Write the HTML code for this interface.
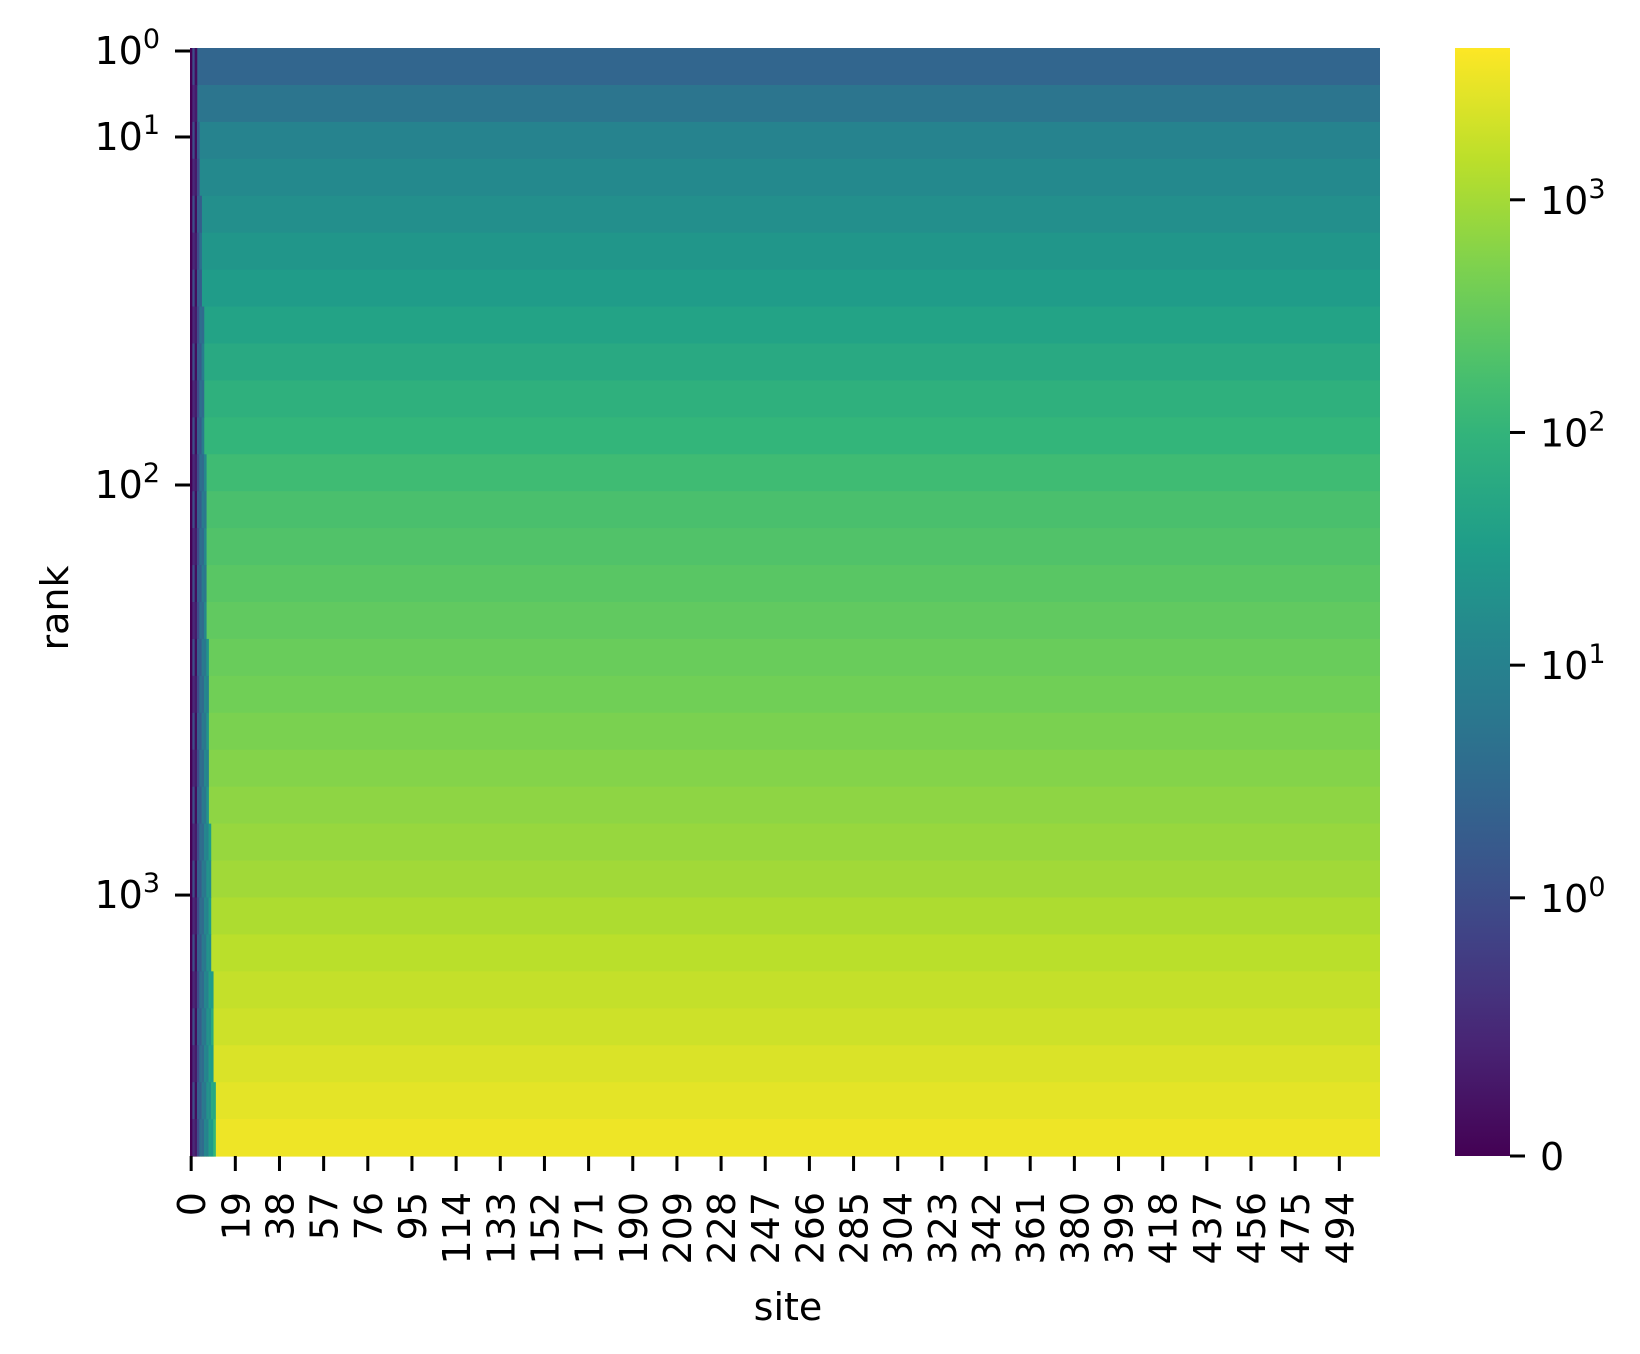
<!DOCTYPE html>
<html><head><meta charset="utf-8"><style>
html,body{margin:0;padding:0;background:#fff}
svg{display:block;font-family:"DejaVu Sans","Liberation Sans",sans-serif}
</style></head><body>
<svg id="chart" width="1640" height="1354" viewBox="0 0 1640 1354" xmlns="http://www.w3.org/2000/svg">
<g id="cells"></g>
<g id="noise"></g>
<g id="cbar"></g>
<g id="axes"></g>
</svg>
<script>
// ---- data ----
const rowBandValues = [2.8,5.4,10.4,13.7,18,24,31,43,60,84,105,145,181,213,251,296,350,410,485,571,675,790,935,1165,1450,1700,2000,2500,2950,3500];
const nSites = 512;
const xTickSites = [0,19,38,57,76,95,114,133,152,171,190,209,228,247,266,285,304,323,342,361,380,399,418,437,456,475,494];
const yTickLabels = ["0","1","2","3"];
const yTickPos = [0,0.0776,0.3917,0.7618]; // fraction down the axis (rank ticks)
const cbarTickValues = [0,1,10,100,1000];
const cbarTickLabels = ["0","10^0","10^1","10^2","10^3"];
const noiseColValues = [0,1,0.3,2,4,7,12,20,35,60,110];
const noiseExtent = [3,3,4,4,5,5,5,6,6,6,6,7,7,7,7,7,8,8,8,8,8,9,9,9,9,10,10,10,11,11];

// ---- geometry ----
const X0=190,X1=1380,Y0=48,Y1=1156;
const CB0=1455,CB1=1510;
const FS=38, SUP=27;
function norm(v){ // symlog, linthresh 1
  const lin=0.233, dec=0.21;
  if(v<=1) return lin*v;
  return Math.min(1, lin+dec*Math.log10(v));
}
const VIR=[[68,1,84],[72,40,120],[62,74,137],[49,104,142],[38,130,142],[31,158,137],[53,183,121],[110,206,88],[181,222,43],[253,231,37]];
function viridis(t){
  t=Math.max(0,Math.min(1,t));const s=t*(VIR.length-1);const i=Math.min(VIR.length-2,Math.floor(s));const f=s-i;
  const c=VIR[i].map((a,k)=>Math.round(a+(VIR[i+1][k]-a)*f));return `rgb(${c[0]},${c[1]},${c[2]})`;
}
const xs=i=>X0+(X1-X0)*i/nSites;
const ys=i=>Y0+(Y1-Y0)*i/rowBandValues.length;
const NS="http://www.w3.org/2000/svg";
function mk(tag,attrs,parent){const e=document.createElementNS(NS,tag);for(const k in attrs)e.setAttribute(k,attrs[k]);parent.appendChild(e);return e;}

const cells=document.getElementById('cells');
rowBandValues.forEach((v,i)=>{
  const r=mk('rect',{x:X0,y:ys(i),width:X1-X0,height:ys(i+1)-ys(i)+0.6,fill:viridis(norm(v))},cells);
  
  
});
const noise=document.getElementById('noise');
noiseExtent.forEach((ext,i)=>{
  for(let c=0;c<ext;c++){
    const val=noiseColValues[c]*((i+c)%2?1:0.5);
    const r=mk('rect',{x:xs(c),y:ys(i),width:xs(c+1)-xs(c)+0.3,height:ys(i+1)-ys(i)+0.6,fill:viridis(norm(val))},noise);
    
    
  }
});
// colorbar
const cb=document.getElementById('cbar');
const defs=mk('defs',{},cb);
const lg=mk('linearGradient',{id:'g',x1:0,y1:1,x2:0,y2:0},defs);
for(let k=0;k<=20;k++)mk('stop',{offset:k/20,'stop-color':viridis(k/20)},lg);
const cbr=mk('rect',{x:CB0,y:Y0,width:CB1-CB0,height:Y1-Y0,fill:'url(#g)'},cb);


cbarTickValues.forEach((v,i)=>{
  const y=Y1-(Y1-Y0)*norm(v);
  mk('line',{x1:CB1,x2:CB1+15,y1:y,y2:y,stroke:'#000','stroke-width':3},cb);
  const t=mk('text',{x:CB1+30,y:y+14,'font-size':FS,fill:'#000'},cb);
  
  
  const lab=cbarTickLabels[i];
  if(lab.includes('^')){const p=lab.split('^');t.textContent=p[0];const s=mk('tspan',{dy:-16,'font-size':SUP},t);s.textContent=p[1];}
  else t.textContent=lab;
});
// axes
const ax=document.getElementById('axes');
xTickSites.forEach(s=>{
  const x=X0+(X1-X0)*(s+0.5)/nSites;
  mk('line',{x1:x,x2:x,y1:Y1,y2:Y1+15,stroke:'#000','stroke-width':3},ax);
  const t=mk('text',{x:0,y:0,'font-size':FS,fill:'#000','text-anchor':'end',transform:`translate(${x+14},${Y1+36}) rotate(-90)`},ax);
  
  
  t.textContent=String(s);
});
yTickLabels.forEach((e,i)=>{
  const y=Y0+3+(Y1-Y0)*yTickPos[i];
  mk('line',{x1:X0-15,x2:X0,y1:y,y2:y,stroke:'#000','stroke-width':3},ax);
  const t=mk('text',{x:X0-30,y:y+13,'font-size':FS,fill:'#000','text-anchor':'end'},ax);
  
  
  t.textContent='10';const s=mk('tspan',{dy:-16,'font-size':SUP},t);s.textContent=e;
});
const xl=mk('text',{x:788,y:1320,'font-size':FS,'text-anchor':'middle',fill:'#000'},ax);


xl.textContent='site';
const yl=mk('text',{x:0,y:0,'font-size':FS,'text-anchor':'middle',fill:'#000',transform:'translate(68,608) rotate(-90)'},ax);


yl.textContent='rank';
</script>
</body></html>
